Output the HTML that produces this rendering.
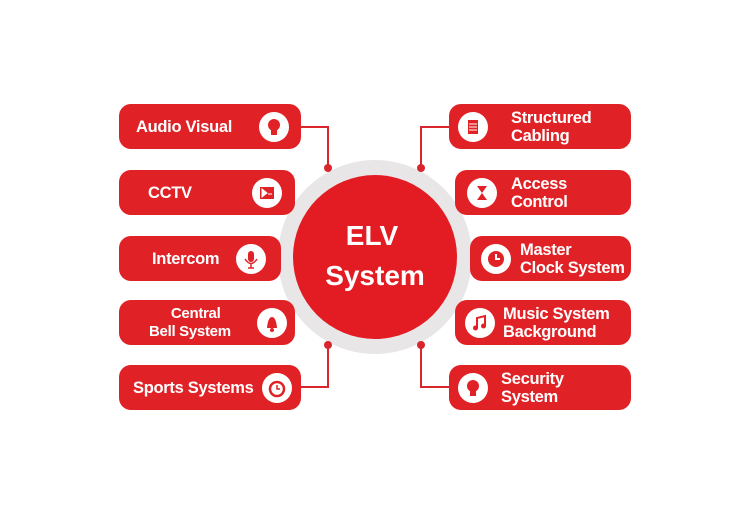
<!DOCTYPE html>
<html><head><style>
body{margin:0;width:750px;height:530px;background:#fff;position:relative;font-family:"Liberation Sans",sans-serif;overflow:hidden}
.b{position:absolute;height:45px;background:#e02227;border-radius:12px;color:#fff;font-weight:bold;font-size:16.5px;letter-spacing:-0.3px;line-height:18px;box-sizing:border-box}
.b .t{position:absolute;top:50%;transform:translateY(-50%);white-space:nowrap}
.ic{position:absolute;width:30px;height:30px;border-radius:50%;background:#fff;top:7.5px}
.ic svg{position:absolute;left:0;top:0}
</style></head><body>
<svg width="750" height="530" style="position:absolute;left:0;top:0">
<circle cx="375" cy="257" r="97" fill="#e8e6e6"/>
<circle cx="375" cy="257" r="82" fill="#e31b22"/>
<g stroke="#d8262c" stroke-width="2" fill="none">
<path d="M300 127 H328 V168"/><path d="M300 387 H328 V345"/>
<path d="M450 127 H421 V168"/><path d="M450 387 H421 V345"/>
</g>
<g fill="#d8262c"><circle cx="328" cy="168" r="4"/><circle cx="328" cy="345" r="4"/><circle cx="421" cy="168" r="4"/><circle cx="421" cy="345" r="4"/></g>
<text x="372" y="245" fill="#fff" font-family="Liberation Sans" font-weight="bold" font-size="28" text-anchor="middle">ELV</text>
<text x="375" y="285" fill="#fff" font-family="Liberation Sans" font-weight="bold" font-size="28" text-anchor="middle">System</text>
</svg>
<div class="b" style="left:119px;top:104px;width:182px"><span class="t" style="left:17px">Audio Visual</span><div class="ic" style="left:140px"><svg width="30" height="30"><circle cx="15" cy="13" r="6" fill="#e02227"/><rect x="12" y="18" width="6" height="5" fill="#e02227"/></svg></div></div>
<div class="b" style="left:119px;top:170px;width:176px"><span class="t" style="left:29px">CCTV</span><div class="ic" style="left:133px"><svg width="30" height="30"><rect x="8" y="9" width="14" height="12" fill="#e02227"/><path d="M10 11 L15 15 L10 19Z M16 16 H20" stroke="#fff" fill="#fff" stroke-width="1"/></svg></div></div>
<div class="b" style="left:119px;top:236px;width:162px"><span class="t" style="left:33px">Intercom</span><div class="ic" style="left:117px"><svg width="30" height="30"><rect x="12" y="7" width="6" height="11" rx="3" fill="#e02227"/><path d="M9 15 Q15 24 21 15 M15 20 V24 M12 24 H18" stroke="#e02227" stroke-width="1.5" fill="none"/></svg></div></div>
<div class="b" style="left:119px;top:300px;width:176px;font-size:15px"><span class="t" style="left:30px;text-align:center">&nbsp;&nbsp;&nbsp;Central<br>Bell System</span><div class="ic" style="left:138px"><svg width="30" height="30"><path d="M10 20 Q11 9 15 9 Q19 9 20 20Z" fill="#e02227"/><circle cx="15" cy="22" r="2" fill="#e02227"/></svg></div></div>
<div class="b" style="left:119px;top:365px;width:182px"><span class="t" style="left:14px">Sports Systems</span><div class="ic" style="left:143px"><svg width="30" height="30"><circle cx="15" cy="16" r="7" fill="none" stroke="#e02227" stroke-width="2.5"/><path d="M15 12 V16 H18" stroke="#e02227" stroke-width="1.5" fill="none"/></svg></div></div>
<div class="b" style="left:449px;top:104px;width:182px"><div class="ic" style="left:9px"><svg width="30" height="30"><rect x="10" y="8" width="10" height="14" fill="#e02227"/><path d="M11 12H19M11 15H19M11 18H19" stroke="#fff"/></svg></div><span class="t" style="left:62px">Structured<br>Cabling</span></div>
<div class="b" style="left:455px;top:170px;width:176px"><div class="ic" style="left:12px"><svg width="30" height="30"><path d="M10 8H20L15 15L20 22H10L15 15Z" fill="#e02227"/></svg></div><span class="t" style="left:56px">Access<br>Control</span></div>
<div class="b" style="left:470px;top:236px;width:161px"><div class="ic" style="left:11px"><svg width="30" height="30"><circle cx="15" cy="15" r="8" fill="#e02227"/><path d="M15 10 V15 H19" stroke="#fff" stroke-width="2" fill="none"/></svg></div><span class="t" style="left:50px">Master<br>Clock System</span></div>
<div class="b" style="left:455px;top:300px;width:176px"><div class="ic" style="left:10px"><svg width="30" height="30"><path d="M12 20 V10 L20 8 V18" stroke="#e02227" stroke-width="2" fill="none"/><circle cx="10.5" cy="20" r="2.5" fill="#e02227"/><circle cx="18.5" cy="18" r="2.5" fill="#e02227"/></svg></div><span class="t" style="left:48px">Music System<br>Background</span></div>
<div class="b" style="left:449px;top:365px;width:182px"><div class="ic" style="left:9px"><svg width="30" height="30"><circle cx="15" cy="13" r="6" fill="#e02227"/><rect x="12" y="17" width="6" height="6" fill="#e02227"/></svg></div><span class="t" style="left:52px">Security<br>System</span></div>
</body></html>
